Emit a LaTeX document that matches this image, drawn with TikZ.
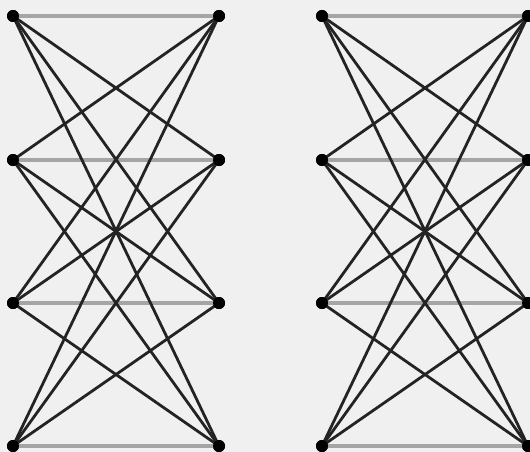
\documentclass[tikz,border=0pt]{standalone}
\definecolor{bg}{RGB}{240,240,240}
\definecolor{matchgray}{RGB}{165,165,165}
\definecolor{edgeblack}{RGB}{35,35,35}
\tikzset{
  vtx/.style={circle,fill=black,inner sep=0pt,minimum size=12pt},
  match/.style={draw=matchgray,line width=3.4pt},
  cross/.style={draw=edgeblack,line width=2.8pt},
}
\begin{document}
\begin{tikzpicture}[x=1pt,y=-1pt]
\fill[bg] (0,0) rectangle (530,452);
\useasboundingbox (0,0) rectangle (530,452);
% vertices (left graph: a, right graph: b)
\foreach \i/\y in {1/16,2/160,3/303,4/446}{
  \node[vtx] (aL\i) at (13,\y) {};
  \node[vtx] (aR\i) at (219,\y) {};
  \node[vtx] (bL\i) at (322,\y) {};
  \node[vtx] (bR\i) at (528,\y) {};
}
% matching edges
\foreach \g in {a,b}{
  \foreach \i in {1,...,4}{
    \draw[match] (\g L\i.center) -- (\g R\i.center);
  }
}
% crossing edges
\foreach \g in {a,b}{
  \foreach \i in {1,...,4}{
    \foreach \j in {1,...,4}{
      \ifnum\i=\j\else
        \draw[cross] (\g L\i.center) -- (\g R\j.center);
      \fi
    }
  }
}
% vertices on top
\foreach \i in {1,...,4}{
  \foreach \g in {aL,aR,bL,bR}{
    \fill[black] (\g\i.center) circle (6pt);
  }
}
\end{tikzpicture}
\end{document}
